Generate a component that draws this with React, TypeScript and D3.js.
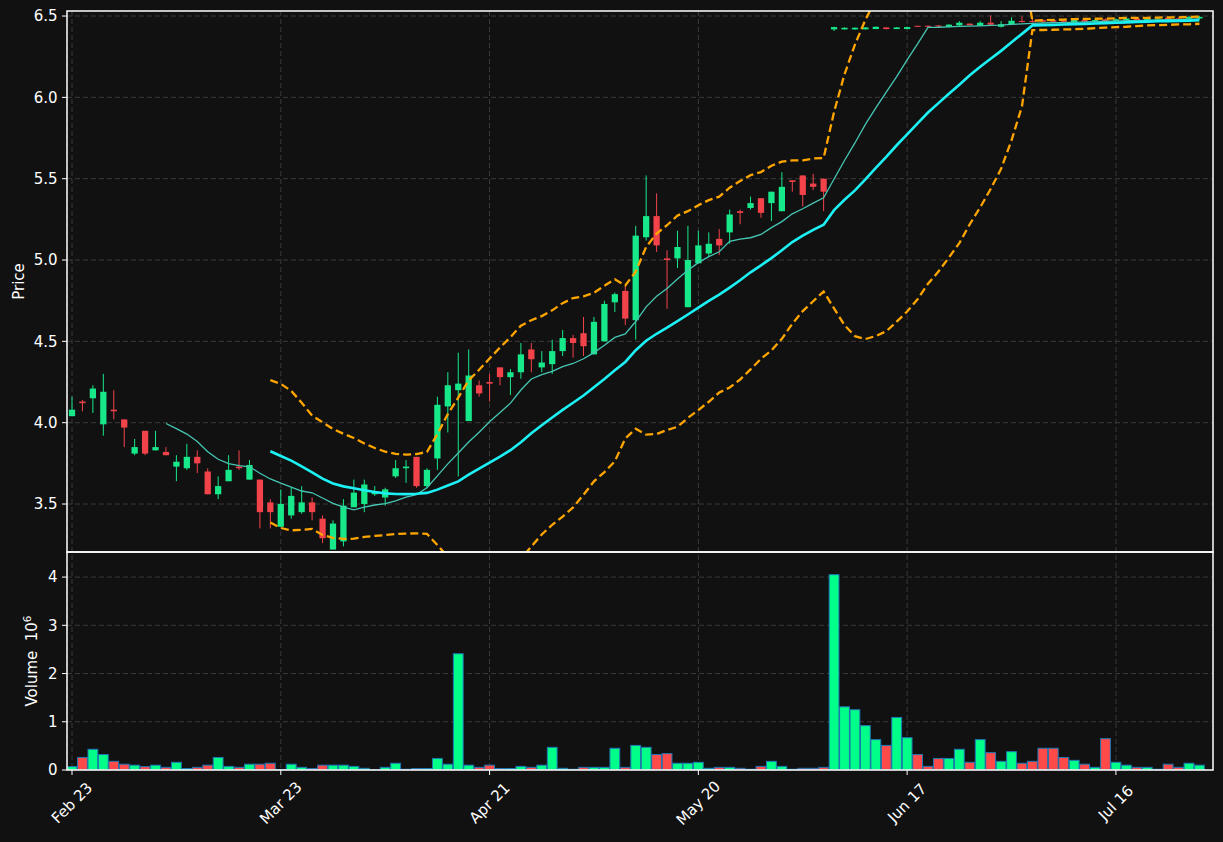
import React from 'react';
import * as d3 from 'd3';

// daily OHLC (index = trading day)
const opens = [
  4.04, 4.13, 4.15, 3.99, 4.08, 4.02, 3.81, 3.95, 3.83, 3.82,
  3.73, 3.72, 3.79, 3.70, 3.56, 3.64, 3.73, 3.65, 3.65, 3.51,
  3.36, 3.43, 3.45, 3.51, 3.41, 3.22, 3.27, 3.48, 3.50, 3.56,
  3.54, 3.67, 3.72, 3.79, 3.61, 3.78, 4.10, 4.20, 4.01, 4.23,
  4.25, 4.34, 4.28, 4.31, 4.45, 4.34, 4.36, 4.44, 4.52, 4.55,
  4.42, 4.50, 4.74, 4.81, 4.63, 5.14, 5.27, 5.01, 5.01, 4.71,
  4.98, 5.04, 5.13, 5.17, 5.30, 5.32, 5.38, 5.35, 5.30, 5.49,
  5.52, 5.47, 5.50, 6.418, 6.418, 6.418, 6.418, 6.42, 6.43, 6.42,
  6.42, 6.44, 6.44, 6.442, 6.434, 6.443, 6.453, 6.44, 6.459, 6.434,
  6.45, 6.47, 6.47, 6.475, 6.475, 6.475, 6.46, 6.475, 6.465, 6.48,
  6.47, 6.475, 6.485, 6.475, 6.48, 6.49, 6.485, 6.483, 6.485,
];
const highs = [
  4.16, 4.14, 4.23, 4.30, 4.20, 4.02, 3.90, 3.95, 3.95, 3.85,
  3.80, 3.87, 3.83, 3.72, 3.67, 3.80, 3.83, 3.77, 3.65, 3.53,
  3.59, 3.60, 3.61, 3.54, 3.43, 3.40, 3.53, 3.65, 3.65, 3.61,
  3.60, 3.77, 3.77, 3.79, 3.72, 4.16, 4.31, 4.43, 4.45, 4.26,
  4.30, 4.34, 4.33, 4.49, 4.49, 4.44, 4.51, 4.57, 4.54, 4.65,
  4.65, 4.75, 4.80, 4.84, 5.21, 5.52, 5.41, 5.06, 5.18, 5.21,
  5.18, 5.17, 5.19, 5.31, 5.31, 5.39, 5.38, 5.42, 5.54, 5.49,
  5.52, 5.53, 5.50, 6.434, 6.43, 6.43, 6.432, 6.435, 6.43, 6.432,
  6.435, 6.44, 6.442, 6.445, 6.45, 6.469, 6.455, 6.469, 6.504, 6.469,
  6.492, 6.498, 6.49, 6.48, 6.48, 6.48, 6.48, 6.48, 6.48, 6.485,
  6.485, 6.49, 6.49, 6.49, 6.49, 6.495, 6.49, 6.5, 6.5,
];
const lows = [
  4.04, 4.07, 4.06, 3.92, 4.02, 3.85, 3.80, 3.80, 3.83, 3.80,
  3.64, 3.71, 3.69, 3.56, 3.53, 3.64, 3.71, 3.65, 3.35, 3.35,
  3.36, 3.41, 3.44, 3.40, 3.26, 3.22, 3.24, 3.48, 3.45, 3.55,
  3.49, 3.66, 3.63, 3.60, 3.60, 3.71, 3.94, 3.67, 4.01, 4.16,
  4.13, 4.23, 4.17, 4.27, 4.31, 4.31, 4.30, 4.41, 4.40, 4.41,
  4.42, 4.50, 4.68, 4.60, 4.51, 5.12, 5.05, 4.70, 4.95, 4.71,
  4.98, 5.02, 5.03, 5.10, 5.22, 5.31, 5.26, 5.24, 5.30, 5.42,
  5.33, 5.43, 5.30, 6.408, 6.418, 6.415, 6.418, 6.42, 6.418, 6.42,
  6.42, 6.435, 6.43, 6.432, 6.43, 6.44, 6.44, 6.44, 6.445, 6.43,
  6.45, 6.46, 6.46, 6.46, 6.46, 6.46, 6.455, 6.46, 6.46, 6.465,
  6.465, 6.47, 6.47, 6.47, 6.475, 6.475, 6.475, 6.48, 6.48,
];
const closes = [
  4.08, 4.12, 4.21, 4.19, 4.07, 3.97, 3.85, 3.81, 3.85, 3.80,
  3.76, 3.79, 3.75, 3.56, 3.61, 3.71, 3.72, 3.74, 3.45, 3.45,
  3.50, 3.55, 3.51, 3.45, 3.29, 3.38, 3.49, 3.57, 3.62, 3.58,
  3.59, 3.72, 3.73, 3.61, 3.71, 4.11, 4.23, 4.24, 4.29, 4.18,
  4.24, 4.28, 4.31, 4.42, 4.39, 4.37, 4.44, 4.52, 4.49, 4.47,
  4.62, 4.73, 4.79, 4.64, 5.15, 5.27, 5.09, 5.00, 5.08, 5.00,
  5.09, 5.10, 5.09, 5.28, 5.29, 5.35, 5.29, 5.42, 5.45, 5.48,
  5.40, 5.45, 5.42, 6.432, 6.428, 6.428, 6.43, 6.434, 6.42, 6.43,
  6.432, 6.437, 6.435, 6.436, 6.447, 6.459, 6.445, 6.459, 6.447, 6.45,
  6.471, 6.465, 6.465, 6.465, 6.465, 6.465, 6.475, 6.465, 6.475, 6.47,
  6.48, 6.485, 6.475, 6.485, 6.485, 6.48, 6.48, 6.494, 6.495,
];
// volume in millions
const volumes = [
  0.07, 0.26, 0.43, 0.32, 0.18, 0.12, 0.10, 0.07, 0.10, 0.055,
  0.16, 0.03, 0.055, 0.10, 0.26, 0.075, 0.055, 0.12, 0.12, 0.14,
  0.01, 0.12, 0.055, 0.03, 0.10, 0.10, 0.10, 0.075, 0.035, 0.005,
  0.055, 0.14, 0.015, 0.03, 0.03, 0.24, 0.12, 2.41, 0.10, 0.055,
  0.10, 0.03, 0.03, 0.075, 0.055, 0.10, 0.47, 0.035, 0.015, 0.055,
  0.055, 0.055, 0.45, 0.055, 0.51, 0.47, 0.32, 0.34, 0.14, 0.14,
  0.16, 0.035, 0.055, 0.055, 0.035, 0.015, 0.075, 0.18, 0.075, 0.015,
  0.035, 0.035, 0.055, 4.05, 1.31, 1.25, 0.92, 0.63, 0.51, 1.09,
  0.67, 0.32, 0.075, 0.24, 0.24, 0.43, 0.16, 0.63, 0.36, 0.18,
  0.38, 0.14, 0.18, 0.45, 0.45, 0.26, 0.20, 0.12, 0.055, 0.65,
  0.16, 0.10, 0.055, 0.055, 0.015, 0.12, 0.055, 0.14, 0.10,
];

const tickIdx = [0, 20, 40, 60, 80, 100];
const tickLabels = ['Feb 23', 'Mar 23', 'Apr 21', 'May 20', 'Jun 17', 'Jul 16'];
const priceTicks = [3.5, 4.0, 4.5, 5.0, 5.5, 6.0, 6.5];
const volTicks = [0, 1, 2, 3, 4];

const W = 1223, H = 842;
const L = 67, R = 1213, T = 11, MID = 552, B = 770;

const BG = '#111111';
const UP = '#17e88a', DOWN = '#f2434b';
const VUP = '#00ff88', VDOWN = '#ff4a4a';
const GRID = '#3a3a3a';
const FONT = 'DejaVu Sans, sans-serif';

function sma(vals: number[], n: number) {
  return vals.map((_, i) => (i < n - 1 ? null : d3.mean(vals.slice(i - n + 1, i + 1)) as number));
}
function bollinger(vals: number[], n: number, k: number) {
  return vals.map((_, i) => {
    if (i < n - 1) return null;
    const w = vals.slice(i - n + 1, i + 1);
    const m = d3.mean(w) as number;
    const sd = Math.sqrt(d3.mean(w, v => (v - m) * (v - m)) as number);
    return { up: m + k * sd, lo: m - k * sd };
  });
}

export default function App() {
  const x = d3.scaleLinear().domain([-0.48, 109.3]).range([L, R]);
  const y = d3.scaleLinear().domain([3.205, 6.531]).range([MID, T]);
  const yv = d3.scaleLinear().domain([0, 4.52]).range([B, MID]);
  const step = x(1) - x(0);

  const ma10 = sma(closes, 10);
  const ma20 = sma(closes, 20);
  const bb = bollinger(closes, 20, 2);

  const line = d3.line<number | null>()
    .defined(d => d !== null)
    .x((_, i) => x(i))
    .y(d => y(d as number));

  const upper = line(bb.map(b => (b ? b.up : null)));
  const lower = line(bb.map(b => (b ? b.lo : null)));

  return (
    <svg width={W} height={H} style={{ position: 'absolute', left: 0, top: 0, background: BG }} fontFamily={FONT}>
      <rect x={0} y={0} width={W} height={H} fill={BG} />
      <defs>
        <clipPath id="mainClip"><rect x={L} y={T} width={R - L} height={MID - T} /></clipPath>
        <clipPath id="volClip"><rect x={L} y={MID} width={R - L} height={B - MID} /></clipPath>
      </defs>

      {/* grid */}
      {tickIdx.map(t => (
        <line key={'vg' + t} x1={x(t)} x2={x(t)} y1={T} y2={B} stroke={GRID} strokeWidth={1} strokeDasharray="5,3" />
      ))}
      {priceTicks.map(p => (
        <line key={'pg' + p} x1={L} x2={R} y1={y(p)} y2={y(p)} stroke={GRID} strokeWidth={1} strokeDasharray="5,3" />
      ))}
      {volTicks.map(v => (
        <line key={'vgv' + v} x1={L} x2={R} y1={yv(v)} y2={yv(v)} stroke={GRID} strokeWidth={1} strokeDasharray="5,3" />
      ))}

      {/* candles */}
      <g clipPath="url(#mainClip)">
        {closes.map((c, i) => {
          const o = opens[i];
          const col = c >= o ? UP : DOWN;
          const top = y(Math.max(o, c));
          const bot = y(Math.min(o, c));
          const bw = step * 0.6;
          return (
            <g key={'c' + i}>
              <line x1={x(i)} x2={x(i)} y1={y(highs[i])} y2={y(lows[i])} stroke={col} strokeWidth={1} />
              <rect x={x(i) - bw / 2} y={top} width={bw} height={Math.max(bot - top, 1)} fill={col} />
            </g>
          );
        })}
        <path d={line(ma10) || ''} fill="none" stroke="#46c6b4" strokeWidth={1.3} />
        <path d={line(ma20) || ''} fill="none" stroke="#1cf2f5" strokeWidth={2.6} />
        <path d={upper || ''} fill="none" stroke="#ffa500" strokeWidth={2.3} strokeDasharray="8,4" />
        <path d={lower || ''} fill="none" stroke="#ffa500" strokeWidth={2.3} strokeDasharray="8,4" />
      </g>

      {/* volume */}
      <g clipPath="url(#volClip)">
        {volumes.map((v, i) => {
          const bw = step * 0.94;
          const col = closes[i] >= opens[i] ? VUP : VDOWN;
          return (
            <rect key={'v' + i} x={x(i) - bw / 2} y={yv(v)} width={bw} height={yv(0) - yv(v)}
              fill={col} stroke="#1f77b4" strokeWidth={1} />
          );
        })}
      </g>

      {/* frames */}
      <rect x={L} y={T} width={R - L} height={MID - T} fill="none" stroke="#ffffff" strokeWidth={1.5} />
      <rect x={L} y={MID} width={R - L} height={B - MID} fill="none" stroke="#ffffff" strokeWidth={1.5} />

      {/* price axis */}
      {priceTicks.map(p => (
        <g key={'pt' + p}>
          <line x1={L - 5} x2={L} y1={y(p)} y2={y(p)} stroke="#fff" strokeWidth={1} />
          <text x={L - 9.5} y={y(p)} dy="0.35em" textAnchor="end" fill="#fff" fontSize={15}>{p.toFixed(1)}</text>
        </g>
      ))}
      <text transform={`translate(24,${(T + MID) / 2}) rotate(-90)`} textAnchor="middle" fill="#fff" fontSize={15}>Price</text>

      {/* volume axis */}
      {volTicks.map(v => (
        <g key={'vt' + v}>
          <line x1={L - 5} x2={L} y1={yv(v)} y2={yv(v)} stroke="#fff" strokeWidth={1} />
          <text x={L - 9.5} y={yv(v)} dy="0.35em" textAnchor="end" fill="#fff" fontSize={15}>{v}</text>
        </g>
      ))}
      <text transform={`translate(36.5,${(MID + B) / 2}) rotate(-90)`} textAnchor="middle" fill="#fff" fontSize={15}>
        {'Volume\u00a0\u00a010'}<tspan dy={-6} fontSize={10.5}>6</tspan>
      </text>

      {/* x axis */}
      {tickIdx.map((t, k) => (
        <g key={'xt' + t}>
          <line x1={x(t)} x2={x(t)} y1={B} y2={B + 5} stroke="#fff" strokeWidth={1} />
          <text transform={`translate(${x(t)},${B + 33}) rotate(-45)`} textAnchor="middle" dominantBaseline="central"
            fill="#fff" fontSize={15}>{tickLabels[k]}</text>
        </g>
      ))}
    </svg>
  );
}
